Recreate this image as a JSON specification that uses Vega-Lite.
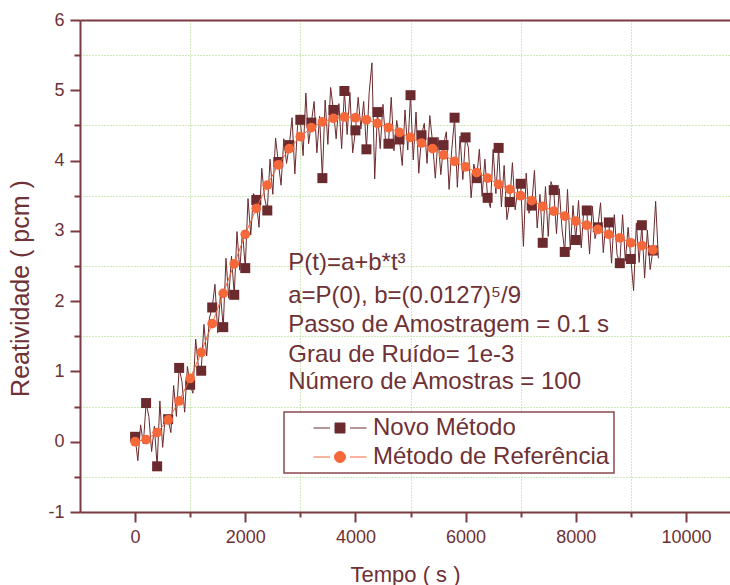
{
  "$schema": "https://vega.github.io/schema/vega-lite/v6.json",
  "width": 650,
  "height": 492,
  "autosize": {"type": "none"},
  "padding": {"left": 80, "top": 20, "right": 0, "bottom": 73},
  "background": "white",
  "config": {
    "font": "Liberation Sans",
    "view": {"stroke": null},
    "axis": {
      "domainColor": "#7b3a3f",
      "domainWidth": 2,
      "tickColor": "#7b3a3f",
      "tickWidth": 2,
      "labelColor": "#6e3135",
      "labelFont": "Liberation Sans",
      "labelFontSize": 18,
      "titleFont": "Liberation Sans",
      "titleFontSize": 23,
      "titleFontWeight": "normal",
      "titleColor": "#6e3135",
      "gridColor": "#9fd470",
      "gridDash": [1, 2],
      "gridWidth": 1,
      "labelOverlap": false,
      "labelFlush": false
    }
  },
  "datasets": {
    "novo": [
      {"t":0,"v":0.07},{"t":50,"v":-0.27},{"t":100,"v":0.24},{"t":150,"v":-0.03},{"t":200,"v":0.55},{"t":250,"v":0.36},{"t":300,"v":-0.14},{"t":350,"v":0.22},{"t":400,"v":-0.35},{"t":450,"v":0.58},{"t":500,"v":-0.08},{"t":550,"v":0.37},{"t":600,"v":0.32},{"t":650,"v":0.13},{"t":700,"v":0.80},{"t":750,"v":0.36},{"t":800,"v":1.05},{"t":850,"v":0.86},{"t":900,"v":0.42},{"t":950,"v":1.07},{"t":1000,"v":0.81},{"t":1050,"v":0.69},{"t":1100,"v":1.46},{"t":1150,"v":1.06},{"t":1200,"v":1.01},{"t":1250,"v":1.67},{"t":1300,"v":1.22},{"t":1350,"v":1.76},{"t":1400,"v":1.91},{"t":1450,"v":2.24},{"t":1500,"v":1.55},{"t":1550,"v":2.10},{"t":1600,"v":1.63},{"t":1650,"v":2.61},{"t":1700,"v":2.04},{"t":1750,"v":2.64},{"t":1800,"v":2.09},{"t":1850,"v":2.99},{"t":1900,"v":2.44},{"t":1950,"v":3.00},{"t":2000,"v":2.47},{"t":2050,"v":3.46},{"t":2100,"v":2.94},{"t":2150,"v":3.53},{"t":2200,"v":3.44},{"t":2250,"v":3.05},{"t":2300,"v":3.89},{"t":2350,"v":3.47},{"t":2400,"v":3.29},{"t":2450,"v":4.02},{"t":2500,"v":3.52},{"t":2550,"v":4.32},{"t":2600,"v":3.98},{"t":2650,"v":3.65},{"t":2700,"v":4.31},{"t":2750,"v":3.96},{"t":2800,"v":4.22},{"t":2850,"v":4.61},{"t":2900,"v":3.81},{"t":2950,"v":4.50},{"t":3000,"v":4.58},{"t":3050,"v":4.07},{"t":3100,"v":4.96},{"t":3150,"v":4.24},{"t":3200,"v":4.54},{"t":3250,"v":4.84},{"t":3300,"v":4.11},{"t":3350,"v":4.63},{"t":3400,"v":3.75},{"t":3450,"v":4.86},{"t":3500,"v":4.23},{"t":3550,"v":5.04},{"t":3600,"v":4.72},{"t":3650,"v":4.31},{"t":3700,"v":4.81},{"t":3750,"v":4.17},{"t":3800,"v":4.99},{"t":3850,"v":4.37},{"t":3900,"v":4.97},{"t":3950,"v":4.11},{"t":4000,"v":4.43},{"t":4050,"v":4.90},{"t":4100,"v":4.45},{"t":4150,"v":4.84},{"t":4200,"v":4.16},{"t":4250,"v":4.97},{"t":4300,"v":5.39},{"t":4350,"v":3.74},{"t":4400,"v":4.69},{"t":4450,"v":4.17},{"t":4500,"v":4.80},{"t":4550,"v":4.24},{"t":4600,"v":4.24},{"t":4650,"v":4.90},{"t":4700,"v":4.14},{"t":4750,"v":4.57},{"t":4800,"v":4.30},{"t":4850,"v":3.93},{"t":4900,"v":4.72},{"t":4950,"v":4.15},{"t":5000,"v":4.93},{"t":5050,"v":4.01},{"t":5100,"v":4.69},{"t":5150,"v":3.82},{"t":5200,"v":4.36},{"t":5250,"v":4.53},{"t":5300,"v":3.96},{"t":5350,"v":4.64},{"t":5400,"v":4.26},{"t":5450,"v":3.75},{"t":5500,"v":4.33},{"t":5550,"v":3.80},{"t":5600,"v":4.22},{"t":5650,"v":4.41},{"t":5700,"v":3.59},{"t":5750,"v":4.16},{"t":5800,"v":4.61},{"t":5850,"v":3.62},{"t":5900,"v":4.35},{"t":5950,"v":3.73},{"t":6000,"v":4.33},{"t":6050,"v":4.19},{"t":6100,"v":3.47},{"t":6150,"v":3.95},{"t":6200,"v":3.75},{"t":6250,"v":4.16},{"t":6300,"v":3.49},{"t":6350,"v":4.02},{"t":6400,"v":3.47},{"t":6450,"v":3.33},{"t":6500,"v":4.16},{"t":6550,"v":3.53},{"t":6600,"v":4.18},{"t":6650,"v":3.34},{"t":6700,"v":3.93},{"t":6750,"v":3.16},{"t":6800,"v":3.41},{"t":6850,"v":3.97},{"t":6900,"v":3.30},{"t":6950,"v":3.62},{"t":7000,"v":3.67},{"t":7050,"v":2.78},{"t":7100,"v":3.82},{"t":7150,"v":3.25},{"t":7200,"v":3.36},{"t":7250,"v":3.86},{"t":7300,"v":3.04},{"t":7350,"v":3.52},{"t":7400,"v":2.83},{"t":7450,"v":3.63},{"t":7500,"v":2.92},{"t":7550,"v":3.70},{"t":7600,"v":3.58},{"t":7650,"v":2.96},{"t":7700,"v":3.60},{"t":7750,"v":3.03},{"t":7800,"v":2.70},{"t":7850,"v":3.59},{"t":7900,"v":2.73},{"t":7950,"v":3.36},{"t":8000,"v":2.87},{"t":8050,"v":3.43},{"t":8100,"v":2.76},{"t":8150,"v":3.35},{"t":8200,"v":3.29},{"t":8250,"v":2.67},{"t":8300,"v":3.35},{"t":8350,"v":2.89},{"t":8400,"v":3.05},{"t":8450,"v":3.40},{"t":8500,"v":2.69},{"t":8550,"v":3.17},{"t":8600,"v":3.12},{"t":8650,"v":2.54},{"t":8700,"v":3.23},{"t":8750,"v":2.66},{"t":8800,"v":2.54},{"t":8850,"v":3.23},{"t":8900,"v":2.57},{"t":8950,"v":3.05},{"t":9000,"v":2.60},{"t":9050,"v":2.15},{"t":9100,"v":3.11},{"t":9150,"v":2.55},{"t":9200,"v":3.08},{"t":9250,"v":2.33},{"t":9300,"v":3.01},{"t":9350,"v":2.45},{"t":9400,"v":2.72},{"t":9450,"v":3.42},{"t":9500,"v":2.61}
    ],
    "ref": [
      {"t":0,"v":0.00},{"t":200,"v":0.03},{"t":400,"v":0.13},{"t":600,"v":0.31},{"t":800,"v":0.58},{"t":1000,"v":0.90},{"t":1200,"v":1.27},{"t":1400,"v":1.68},{"t":1600,"v":2.11},{"t":1800,"v":2.53},{"t":2000,"v":2.95},{"t":2200,"v":3.32},{"t":2400,"v":3.65},{"t":2600,"v":3.94},{"t":2800,"v":4.17},{"t":3000,"v":4.34},{"t":3200,"v":4.47},{"t":3400,"v":4.55},{"t":3600,"v":4.60},{"t":3800,"v":4.62},{"t":4000,"v":4.61},{"t":4200,"v":4.58},{"t":4400,"v":4.53},{"t":4600,"v":4.47},{"t":4800,"v":4.40},{"t":5000,"v":4.33},{"t":5200,"v":4.25},{"t":5400,"v":4.17},{"t":5600,"v":4.08},{"t":5800,"v":3.99},{"t":6000,"v":3.91},{"t":6200,"v":3.83},{"t":6400,"v":3.75},{"t":6600,"v":3.66},{"t":6800,"v":3.59},{"t":7000,"v":3.50},{"t":7200,"v":3.43},{"t":7400,"v":3.35},{"t":7600,"v":3.28},{"t":7800,"v":3.21},{"t":8000,"v":3.14},{"t":8200,"v":3.08},{"t":8400,"v":3.02},{"t":8600,"v":2.95},{"t":8800,"v":2.90},{"t":9000,"v":2.83},{"t":9200,"v":2.79},{"t":9400,"v":2.73}
    ],
    "notes": [{"k": 1}]
  },
  "layer": [
    {
      "data": {"name": "novo"},
      "mark": {"type": "line", "strokeWidth": 1, "interpolate": "linear"},
      "encoding": {
        "x": {
          "field": "t", "type": "quantitative",
          "scale": {"domain": [-1000, 10800], "nice": false, "zero": false},
          "axis": {
            "values": [0,1000,2000,3000,4000,5000,6000,7000,8000,9000,10000],
            "labelExpr": "datum.value % 2000 === 0 ? '' + datum.value : ''",
            "tickSize": {"condition": {"test": "datum.value % 2000 !== 0", "value": 5}, "value": 10},
            "grid": true,
            "gridOpacity": {"condition": {"test": "datum.value % 2000 !== 0", "value": 1}, "value": 0},
            "labelPadding": 6,
            "title": "Tempo ( s )",
            "titleFontSize": 22,
            "titlePadding": 18
          }
        },
        "y": {
          "field": "v", "type": "quantitative",
          "scale": {"domain": [-1, 6], "nice": false, "zero": false},
          "axis": {
            "orient": "left",
            "values": [-1,-0.5,0,0.5,1,1.5,2,2.5,3,3.5,4,4.5,5,5.5,6],
            "labelExpr": "datum.value % 1 === 0 ? '' + datum.value : ''",
            "tickSize": {"condition": {"test": "datum.value % 1 !== 0", "value": 6}, "value": 10},
            "grid": true,
            "gridOpacity": {"condition": {"test": "datum.value % 1 !== 0", "value": 1}, "value": 0},
            "labelPadding": 6,
            "title": "Reatividade ( pcm )",
            "titleFontSize": 25,
            "titlePadding": 14,
            "titleY": 268
          }
        },
        "color": {
          "datum": "Novo Método",
          "scale": {"domain": ["Novo Método", "Método de Referência"], "range": ["#6b2a2e", "#f4683a"]},
          "legend": {
            "orient": "none",
            "legendX": 204,
            "legendY": 392,
            "title": null,
            "padding": 4,
            "rowPadding": 5,
            "strokeColor": "#8b4a4f",
            "fillColor": "#ffffff",
            "symbolSize": 400,
            "symbolOffset": 40,
            "labelOffset": 21,
            "labelLimit": 0,
            "labelFont": "Liberation Sans",
            "labelFontSize": 24,
            "labelColor": "#6e3135",
            "labelExpr": "datum.label + '\u00a0\u00a0\u00a0'",
            "encode": {
              "legend": {"update": {"strokeWidth": {"value": 1.5}}},
              "symbols": {
                "update": {
                  "shape": [
                    {"test": "datum.value === 'Novo Método'", "value": "M-2.65,0H-1M1,0H2.65M-0.5,-0.5H0.5V0.5H-0.5Z"},
                    {"value": "M-2.65,0H-1M1,0H2.65M0.55,0C0.55,0.3038,0.3038,0.55,0,0.55C-0.3038,0.55,-0.55,0.3038,-0.55,0C-0.55,-0.3038,-0.3038,-0.55,0,-0.55C0.3038,-0.55,0.55,-0.3038,0.55,0Z"}
                  ],
                  "fill": [
                    {"test": "datum.value === 'Novo Método'", "value": "#6b2a2e"},
                    {"value": "#f4683a"}
                  ],
                  "stroke": [
                    {"test": "datum.value === 'Novo Método'", "value": "#6b2a2e"},
                    {"value": "#f4683a"}
                  ],
                  "strokeWidth": {"value": 1},
                  "opacity": {"value": 1},
                  "fillOpacity": {"value": 1},
                  "size": {"value": 400}
                }
              }
            }
          }
        }
      }
    },
    {
      "data": {"name": "novo"},
      "transform": [{"filter": "datum.t % 200 === 0"}],
      "mark": {"type": "point", "shape": "square", "filled": true, "size": 100, "opacity": 1},
      "encoding": {
        "x": {"field": "t", "type": "quantitative", "scale": {"domain": [-1000, 10800], "nice": false, "zero": false}, "axis": null},
        "y": {"field": "v", "type": "quantitative", "scale": {"domain": [-1, 6], "nice": false, "zero": false}, "axis": null},
        "color": {"datum": "Novo Método"}
      }
    },
    {
      "data": {"name": "ref"},
      "mark": {"type": "line", "strokeWidth": 1},
      "encoding": {
        "x": {
          "field": "t", "type": "quantitative",
          "scale": {"domain": [-1000, 10800], "nice": false, "zero": false},
          "axis": {"orient": "top", "labels": false, "ticks": false, "grid": false, "domain": true, "title": null}
        },
        "y": {"field": "v", "type": "quantitative", "scale": {"domain": [-1, 6], "nice": false, "zero": false}, "axis": null},
        "color": {"datum": "Método de Referência"}
      }
    },
    {
      "data": {"name": "ref"},
      "mark": {"type": "point", "shape": "circle", "filled": true, "size": 95, "opacity": 1},
      "encoding": {
        "x": {"field": "t", "type": "quantitative", "scale": {"domain": [-1000, 10800], "nice": false, "zero": false}, "axis": null},
        "y": {"field": "v", "type": "quantitative", "scale": {"domain": [-1, 6], "nice": false, "zero": false}, "axis": null},
        "color": {"datum": "Método de Referência"}
      }
    },
    {
      "data": {"name": "notes"},
      "mark": {"type": "text", "text": "P(t)=a+b*t³", "align": "left", "baseline": "alphabetic", "font": "Liberation Sans", "fontSize": 24, "color": "#6e3135"},
      "encoding": {
        "x": {"datum": 2780, "type": "quantitative", "axis": null},
        "y": {"datum": 2.443, "type": "quantitative", "axis": null}
      }
    },
    {
      "data": {"name": "notes"},
      "mark": {"type": "text", "text": "a=P(0), b=(0.0127)⁵/9", "align": "left", "baseline": "alphabetic", "font": "Liberation Sans", "fontSize": 24, "color": "#6e3135"},
      "encoding": {
        "x": {"datum": 2780, "type": "quantitative", "axis": null},
        "y": {"datum": 1.974, "type": "quantitative", "axis": null}
      }
    },
    {
      "data": {"name": "notes"},
      "mark": {"type": "text", "text": "Passo de Amostragem = 0.1 s", "align": "left", "baseline": "alphabetic", "font": "Liberation Sans", "fontSize": 24, "color": "#6e3135"},
      "encoding": {
        "x": {"datum": 2780, "type": "quantitative", "axis": null},
        "y": {"datum": 1.561, "type": "quantitative", "axis": null}
      }
    },
    {
      "data": {"name": "notes"},
      "mark": {"type": "text", "text": "Grau de Ruído= 1e-3", "align": "left", "baseline": "alphabetic", "font": "Liberation Sans", "fontSize": 24, "color": "#6e3135"},
      "encoding": {
        "x": {"datum": 2780, "type": "quantitative", "axis": null},
        "y": {"datum": 1.141, "type": "quantitative", "axis": null}
      }
    },
    {
      "data": {"name": "notes"},
      "mark": {"type": "text", "text": "Número de Amostras = 100", "align": "left", "baseline": "alphabetic", "font": "Liberation Sans", "fontSize": 24, "color": "#6e3135"},
      "encoding": {
        "x": {"datum": 2780, "type": "quantitative", "axis": null},
        "y": {"datum": 0.743, "type": "quantitative", "axis": null}
      }
    }
  ],
  "resolve": {"axis": {"x": "independent", "y": "independent"}}
}
